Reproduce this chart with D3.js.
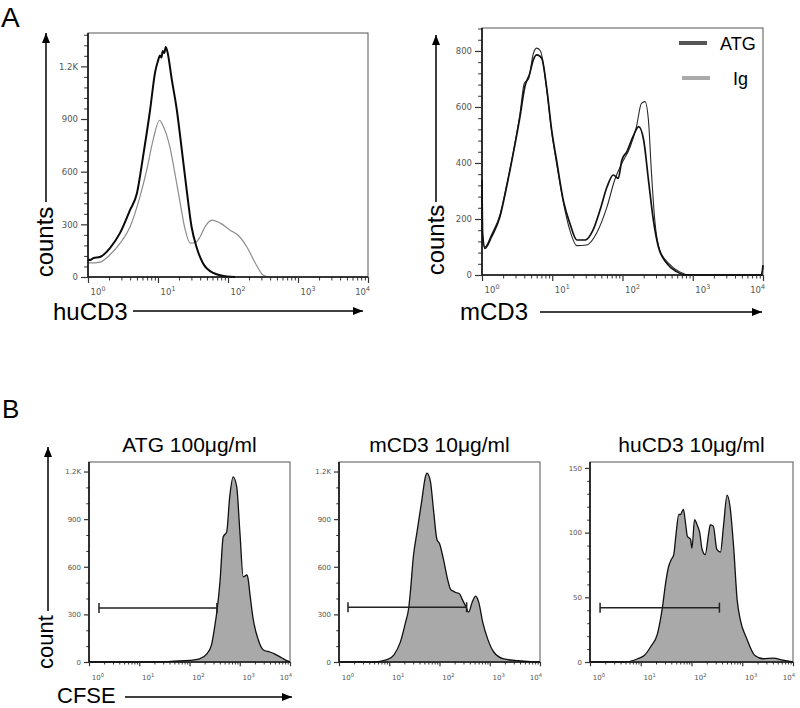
<!DOCTYPE html>
<html>
<head>
<meta charset="utf-8">
<script src="https://cdn.jsdelivr.net/npm/d3@7"></script>
<style>
  body { margin: 0; background: #fff; }
  svg text { font-family: "Liberation Sans", Arial, sans-serif; }
  .tick text { font-family: "DejaVu Sans", sans-serif; fill: #555; }
</style>
</head>
<body>
<svg id="fig" width="800" height="708"></svg>
<script>
// ---- data: [fluorescence, count] ----
const huCD3_ATG = [[1.0,100],[1.07,97],[1.2,108],[1.48,114],[2.06,165],[2.86,250],[3.98,381],[5.0,477],[6.1,683],
  [7.7,950],[9.1,1167],[10.0,1232],[10.7,1262],[11.2,1250],[11.7,1288],[12.3,1276],[12.9,1310],[13.5,1290],
  [15.8,1121],[18.6,950],[21.9,723],[25.7,495],[30.2,285],[35.5,171],[43.7,80],[61.7,23],[95.5,3],[126,0]];
const huCD3_Ig = [[1.0,80],[1.1,80],[1.48,85],[2.04,125],[2.88,193],[3.98,285],[5.5,455],[6.9,609],[8.5,780],
  [10.5,893],[11.7,865],[14.8,740],[17.4,592],[20.4,438],[24.5,267],[28.8,193],[33.9,195],[39.8,228],[46.8,285],
  [58.9,324],[77.6,307],[107,267],[138,239],[186,171],[245,80],[316,11],[380,0]];

const mCD3_ATG = [[1.0,340],[1.02,150],[1.1,95],[1.37,137],[1.8,208],[2.24,315],[2.79,435],[3.47,565],[4.07,672],
  [4.79,720],[5.37,768],[6.03,786],[7.08,774],[8.3,672],[9.8,518],[11.5,411],[14.5,262],[17.8,185],[22.4,125],
  [29.5,125],[38,160],[47.9,232],[60.3,315],[74,357],[87,345],[98,411],[115,440],[141,494],[170,530],[200,482],
  [234,340],[275,196],[324,101],[427,42],[589,12],[813,0],[9500,0],[10000,35]];
const mCD3_Ig = [[1.0,300],[1.02,130],[1.1,100],[1.37,145],[1.8,215],[2.24,320],[2.79,440],[3.47,575],[4.0,685],
  [4.6,700],[5.37,790],[6.03,810],[6.8,800],[8.3,665],[9.8,512],[11.5,400],[14.5,255],[17.8,160],[22.4,105],
  [30.9,107],[42.7,149],[60.3,244],[77.6,340],[98,399],[129,458],[158,530],[186,613],[209,619],[234,553],
  [257,375],[288,196],[339,89],[479,36],[741,5],[891,0],[9500,0],[10000,30]];

const cfseATG = [[1,0],[22.4,0],[47.9,5],[100,10],[158,20],[219,50],[275,110],[316,220],[355,330],[407,517],
  [468,788],[550,820],[631,1040],[741,1166],[871,1103],[1000,832],[1175,536],[1380,548],[1479,517],[1585,435],
  [1862,265],[2344,139],[2951,76],[3981,63],[5012,50],[6918,25],[9120,5],[10000,0]];
const cfseMCD3 = [[1,0],[4.8,0],[9.1,15],[12.3,44],[16.6,125],[20.9,245],[24.5,345],[26.3,440],[30.2,665],
  [35.5,815],[44.7,1023],[52.5,1168],[56.2,1190],[66,1137],[75.9,960],[89,772],[100,747],[120,646],[145,521],
  [166,458],[190,445],[210,438],[250,430],[282,396],[331,352],[380,314],[447,377],[525,415],[603,377],[724,251],
  [912,144],[1202,63],[1905,19],[3631,8],[6607,2],[10000,0]];
const cfseHuCD3 = [[1,0],[4.7,0],[8.7,2.5],[11.7,5],[15.8,12],[21.4,22],[26.9,43],[30.9,61],[35.5,74],[39.8,79],
  [44.7,83],[49,97],[56.2,114],[60.3,114],[69.2,118],[75.9,108],[83.2,97],[95.5,95],[102,88],[115,110],[129,106],
  [145,100],[162,87],[186,83],[219,100],[234,106],[269,105],[316,87],[372,85],[427,105],[501,129],[575,120],
  [676,89],[794,48],[912,33],[1230,18],[1778,5],[2570,2.5],[4074,3],[6310,1.5],[10000,0]];

// gates: [from, to, count level]
const gateATG = [1.58, 351, 340];
const gateMCD3 = [1.51, 347, 345];
const gateHuCD3 = [1.58, 355, 42];

// tick values / labels
const decades = [1, 10, 100, 1000, 10000];
const decadeExp = ['0', '1', '2', '3', '4'];
const ticks1200 = [0, 300, 600, 900, 1200];
const labels1200 = ['0', '300', '600', '900', '1.2K'];
const ticks800 = [0, 200, 400, 600, 800];
const labels800 = ['0', '200', '400', '600', '800'];
const ticks150 = [0, 50, 100, 150];
const labels150 = ['0', '50', '100', '150'];

const legendNames = ['ATG', 'Ig'];
const titlesB = ['ATG 100\u03bcg/ml', 'mCD3 10\u03bcg/ml', 'huCD3 10\u03bcg/ml'];

const svg = d3.select('#fig');

svg.append('defs').append('marker')
  .attr('id', 'arrow').attr('viewBox', '0 0 10 8')
  .attr('refX', 10).attr('refY', 4)
  .attr('markerWidth', 10).attr('markerHeight', 8)
  .attr('markerUnits', 'userSpaceOnUse')
  .attr('orient', 'auto')
  .append('path').attr('d', 'M0,0 L10,4 L0,8 Z').attr('fill', '#000');

function panel(cfg) {
  const g = svg.append('g');
  const x = d3.scaleLog().domain([1, 1e4]).range([cfg.x0, cfg.x1]);
  const y = d3.scaleLinear().domain([0, cfg.yMax]).range([cfg.yBot, cfg.yTop]);

  // frame
  g.append('rect')
    .attr('x', cfg.x0).attr('y', cfg.yTop)
    .attr('width', cfg.x1 - cfg.x0).attr('height', cfg.yBot - cfg.yTop)
    .attr('fill', 'none').attr('stroke', '#555').attr('stroke-width', 1);

  // fills / lines
  const area = d3.area().x(d => x(d[0])).y0(cfg.yBot).y1(d => y(d[1])).curve(d3.curveMonotoneX);
  const line = d3.line().x(d => x(d[0])).y(d => y(d[1])).curve(d3.curveMonotoneX);
  (cfg.series || []).forEach(s => {
    if (s.fill) {
      g.append('path').datum(s.data).attr('d', area).attr('fill', s.fill);
    }
    g.append('path').datum(s.data).attr('d', line)
      .attr('fill', 'none').attr('stroke', s.color).attr('stroke-width', s.width)
      .attr('stroke-linejoin', 'round');
  });

  // gate
  if (cfg.gate) {
    const [a, b, c] = cfg.gate;
    const gy = y(c);
    const gg = g.append('g').attr('stroke', '#222').attr('stroke-width', 1.5);
    gg.append('line').attr('x1', x(a)).attr('x2', x(b)).attr('y1', gy).attr('y2', gy);
    [a, b].forEach(v => gg.append('line').attr('x1', x(v)).attr('x2', x(v)).attr('y1', gy - 5).attr('y2', gy + 5));
  }

  // left axis: minor then major
  const yMinor = d3.range(0, cfg.yMax, cfg.minorStep).filter(v => !cfg.yTicks.includes(v));
  g.append('g').attr('transform', `translate(${cfg.x0},0)`)
    .call(d3.axisLeft(y).tickValues(yMinor).tickFormat('').tickSize(cfg.tick * 0.55))
    .call(a => a.select('.domain').remove())
    .selectAll('line').attr('stroke', '#333');
  const ya = g.append('g').attr('transform', `translate(${cfg.x0},0)`)
    .call(d3.axisLeft(y).tickValues(cfg.yTicks).tickFormat((d, i) => cfg.yLabels[i])
      .tickSize(cfg.tick).tickPadding(3));
  ya.select('.domain').attr('d', `M0,${cfg.yBot}V${cfg.yTop}`).attr('stroke', '#111').attr('stroke-width', 1.6);
  ya.selectAll('line').attr('stroke', '#333').attr('stroke-width', 1.2);
  ya.selectAll('text').style('font-size', cfg.tickFont + 'px');

  // bottom axis: log minor ticks then decades
  const xMinor = x.ticks().filter(v => !decades.includes(v));
  g.append('g').attr('transform', `translate(0,${cfg.yBot})`)
    .call(d3.axisBottom(x).tickValues(xMinor).tickFormat('').tickSize(cfg.tick * 0.5))
    .call(a => a.select('.domain').remove())
    .selectAll('line').attr('stroke', '#333');
  const xa = g.append('g').attr('transform', `translate(0,${cfg.yBot})`)
    .call(d3.axisBottom(x).tickValues(decades).tickFormat('').tickSize(cfg.tick * 0.85));
  xa.select('.domain').attr('d', `M${cfg.x0},0H${cfg.x1}`).attr('stroke', '#111').attr('stroke-width', 1.6);
  xa.selectAll('line').attr('stroke', '#333').attr('stroke-width', 1.2);

  decades.forEach((d, i) => {
    const last = i === decades.length - 1;
    const t = g.append('text')
      .attr('x', last ? x(d) + 2 : x(d) + cfg.labelShift)
      .attr('y', cfg.yBot + cfg.labelDy)
      .attr('text-anchor', last ? 'end' : 'middle')
      .style('font-family', '"DejaVu Sans", sans-serif')
      .style('font-size', cfg.tickFont + 'px')
      .attr('fill', '#555')
      .text('10');
    t.append('tspan').attr('dy', -cfg.tickFont * 0.5)
      .style('font-size', (cfg.tickFont * 0.75) + 'px')
      .text(decadeExp[i]);
  });

  return { x, y, g };
}

function vArrow(xp, yTip, yEnd) {
  svg.append('line').attr('x1', xp).attr('x2', xp).attr('y1', yEnd).attr('y2', yTip)
    .attr('stroke', '#000').attr('stroke-width', 1.5).attr('marker-end', 'url(#arrow)');
}
function hArrow(x1, x2, yp) {
  svg.append('line').attr('x1', x1).attr('x2', x2).attr('y1', yp).attr('y2', yp)
    .attr('stroke', '#000').attr('stroke-width', 1.5).attr('marker-end', 'url(#arrow)');
}
function rotLabel(txt, xp, yc, size) {
  svg.append('text').attr('transform', `translate(${xp},${yc}) rotate(-90)`)
    .attr('text-anchor', 'middle').style('font-size', size + 'px').text(txt);
}
function label(txt, xp, yp, size, anchor) {
  return svg.append('text').attr('x', xp).attr('y', yp).attr('text-anchor', anchor || 'start')
    .style('font-size', size + 'px').text(txt);
}

// ---------- Panel A ----------
label('A', 1, 27, 28);

panel({
  x0: 88, x1: 368, yTop: 33, yBot: 277, yMax: 1390,
  yTicks: ticks1200, yLabels: labels1200, minorStep: 60,
  tick: 7, tickFont: 8.5, labelDy: 18, labelShift: 10,
  series: [
    { data: huCD3_Ig, color: '#8c8c8c', width: 1.2 },
    { data: huCD3_ATG, color: '#0a0a0a', width: 2 }
  ]
});
vArrow(46, 33, 202);
rotLabel('counts', 53, 242, 24);
label('huCD3', 53, 320, 24);
hArrow(133, 363, 311);

panel({
  x0: 482, x1: 763, yTop: 28, yBot: 275, yMax: 882,
  yTicks: ticks800, yLabels: labels800, minorStep: 40,
  tick: 7, tickFont: 8.5, labelDy: 18, labelShift: 10,
  series: [
    { data: mCD3_Ig, color: '#2a2a2a', width: 1.1 },
    { data: mCD3_ATG, color: '#111', width: 1.7 }
  ]
});
vArrow(436, 35, 202);
rotLabel('counts', 444, 240, 24);
label('mCD3', 460, 320, 24);
hArrow(540, 762, 312);

// legend
const legendColors = ['#555', '#aaa'];
const legendX = [[679, 707, 720], [682, 710, 733]];
const legendY = [43, 78];
legendNames.forEach((n, i) => {
  svg.append('line').attr('x1', legendX[i][0]).attr('x2', legendX[i][1])
    .attr('y1', legendY[i]).attr('y2', legendY[i])
    .attr('stroke', legendColors[i]).attr('stroke-width', 4);
  label(n, legendX[i][2], legendY[i] + 7, 18);
});

// ---------- Panel B ----------
label('B', 2, 418, 26);

const bPanels = [
  { x0: 89, x1: 290, yMax: 1260, yTicks: ticks1200, yLabels: labels1200, minorStep: 100,
    data: cfseATG, gate: gateATG },
  { x0: 339, x1: 540, yMax: 1260, yTicks: ticks1200, yLabels: labels1200, minorStep: 100,
    data: cfseMCD3, gate: gateMCD3 },
  { x0: 590, x1: 793, yMax: 154.6, yTicks: ticks150, yLabels: labels150, minorStep: 10,
    data: cfseHuCD3, gate: gateHuCD3 }
];
bPanels.forEach((p, i) => {
  panel({
    x0: p.x0, x1: p.x1, yTop: 462, yBot: 662, yMax: p.yMax,
    yTicks: p.yTicks, yLabels: p.yLabels, minorStep: p.minorStep,
    tick: 5, tickFont: 7, labelDy: 18, labelShift: 9,
    series: [{ data: p.data, color: '#111', width: 1.3, fill: '#a9a9a9' }],
    gate: p.gate
  });
  label(titlesB[i], (p.x0 + p.x1) / 2, 452, 21, 'middle');
});

vArrow(48, 447, 611);
rotLabel('count', 53, 642, 22);
label('CFSE', 57, 703, 22);
hArrow(125, 292, 697);
</script>
</body>
</html>
